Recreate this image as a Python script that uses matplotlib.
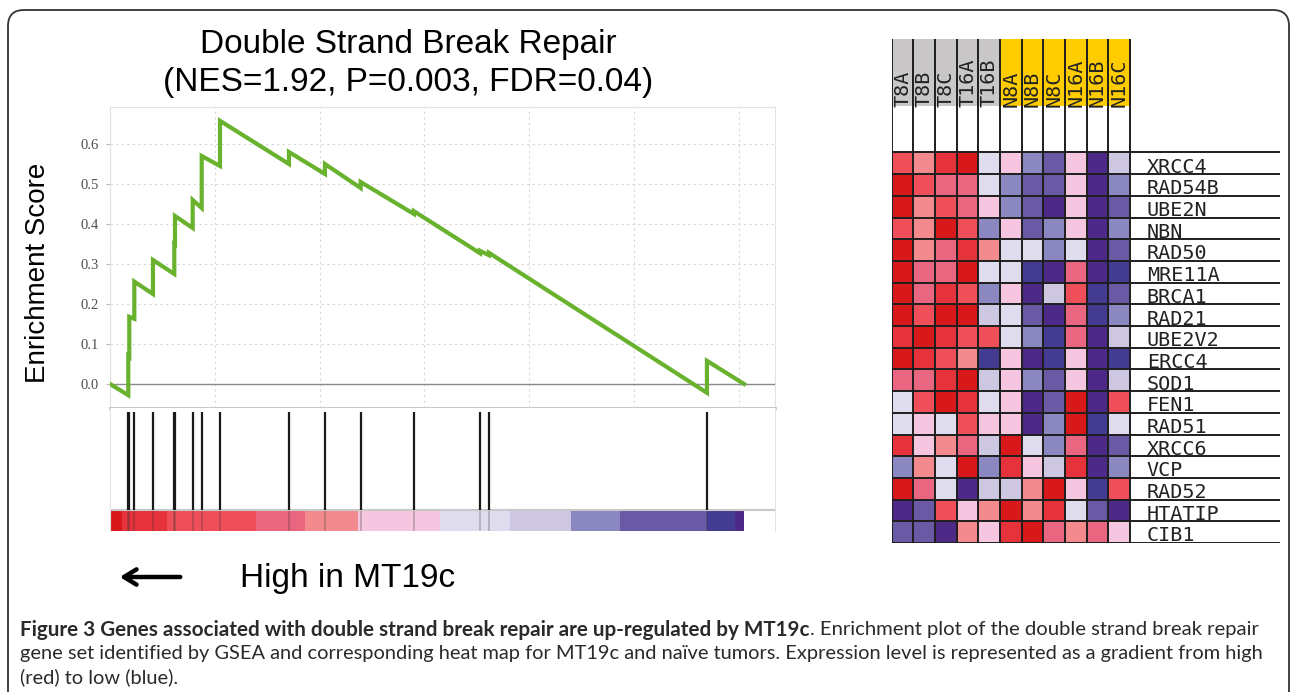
import numpy as np
import matplotlib.pyplot as plt
from matplotlib.colors import ListedColormap
from matplotlib.patches import FancyBboxPatch

plt.rcParams['font.family'] = ['Liberation Sans', 'DejaVu Sans']

W, H = 1290, 692

# running enrichment score (rank in ranked list, ES)
n_genes = 12100
es_rank = [0, 349, 349, 368, 368, 464, 464, 820, 820, 1227, 1227, 1240, 1240,
           1578, 1578, 1750, 1750, 2099, 2099, 3415, 3415, 4102, 4102, 4783, 4783,
           5800, 5800, 7060, 7060, 7231, 7231, 11391, 11391, 12100]
es_value = [0.0, -0.028, 0.07, 0.068, 0.168, 0.163, 0.256, 0.225, 0.31, 0.275, 0.35,
            0.349, 0.42, 0.39, 0.46, 0.44, 0.57, 0.545, 0.658, 0.55, 0.58, 0.525, 0.55,
            0.49, 0.505, 0.425, 0.432, 0.327, 0.333, 0.322, 0.328, -0.022, 0.058, 0.0]
hit_ranks = [349, 368, 464, 820, 1227, 1240, 1578, 1750, 2099, 3415, 4102, 4783,
             5800, 7060, 7231, 11391]

# ranked list metric colour bar (segment edges in rank units)
bar_edges = [0, 223, 1082, 2786, 3721, 4732, 6296, 7632, 8796, 9731, 11385, 11925, 12100]

# expression palette high (red) -> low (blue)
palette = ['#d7191c', '#e6323a', '#ee4f58', '#ea6680', '#f28a8e', '#f6c5df',
           '#dfdcee', '#cdc7e2', '#8b88c1', '#6a5aa5', '#433c92', '#4e2a88']

samples = ['T8A', 'T8B', 'T8C', 'T16A', 'T16B', 'N8A', 'N8B', 'N8C', 'N16A', 'N16B', 'N16C']
groups = ['T'] * 5 + ['N'] * 6
genes = ['XRCC4', 'RAD54B', 'UBE2N', 'NBN', 'RAD50', 'MRE11A', 'BRCA1', 'RAD21',
         'UBE2V2', 'ERCC4', 'SOD1', 'FEN1', 'RAD51', 'XRCC6', 'VCP', 'RAD52',
         'HTATIP', 'CIB1']
# colour level of each cell (0 = highest, 11 = lowest)
levels = [
    [2, 4, 1, 0, 6, 5, 8, 9, 5, 11, 7],
    [0, 2, 3, 3, 6, 8, 9, 9, 5, 11, 8],
    [0, 4, 2, 3, 5, 8, 9, 11, 5, 11, 9],
    [2, 4, 0, 2, 8, 5, 9, 8, 5, 11, 8],
    [0, 4, 3, 1, 4, 6, 6, 8, 6, 11, 9],
    [0, 3, 3, 0, 6, 6, 10, 11, 3, 11, 10],
    [0, 3, 1, 2, 8, 5, 11, 7, 2, 10, 9],
    [0, 2, 0, 0, 7, 6, 9, 11, 3, 10, 8],
    [1, 0, 1, 2, 2, 6, 8, 10, 3, 11, 7],
    [0, 1, 2, 4, 10, 5, 11, 10, 5, 11, 10],
    [3, 3, 1, 0, 7, 5, 8, 9, 5, 11, 7],
    [6, 2, 0, 1, 6, 5, 11, 9, 0, 11, 2],
    [6, 5, 6, 2, 5, 5, 11, 8, 0, 10, 6],
    [1, 5, 4, 3, 7, 0, 6, 8, 3, 11, 9],
    [8, 4, 6, 0, 8, 1, 5, 7, 1, 11, 8],
    [0, 3, 6, 11, 7, 7, 4, 0, 5, 10, 2],
    [11, 9, 2, 5, 4, 0, 4, 1, 6, 9, 11],
    [9, 9, 11, 4, 5, 1, 0, 3, 4, 3, 5],
]

fig = plt.figure(figsize=(W / 100, H / 100), dpi=100)
fig.patch.set_facecolor('white')

def px_axes(x0, y0, x1, y1):
    return fig.add_axes([x0 / W, 1 - y1 / H, (x1 - x0) / W, (y1 - y0) / H])

# background axes in pixel units for border and loose text
bg = fig.add_axes([0, 0, 1, 1])
bg.set_xlim(0, W)
bg.set_ylim(H, 0)
bg.axis('off')
bg.add_patch(FancyBboxPatch((8, 10), 1281, 700, boxstyle='round,pad=0,rounding_size=16',
                            fill=False, ec='#333333', lw=1.3))

# ---- enrichment score plot ----
xmax = 12690
ax = px_axes(110, 107, 775, 408)
ax.plot(es_rank, es_value, color='#68b22e', lw=3.0, solid_joinstyle='miter', zorder=3)
ax.axhline(0, color='#8a8a8a', lw=1.0, zorder=2)
ax.set_xlim(0, xmax)
ax.set_ylim(-0.06, 0.6925)
ax.set_yticks(np.arange(0, 0.61, 0.1))
ax.set_yticklabels(['%.1f' % v for v in np.arange(0, 0.61, 0.1)],
                   family='Liberation Serif', fontsize=10.5, color='#505050')
ax.set_xticks(np.arange(0, 12001, 2000))
ax.tick_params(axis='x', length=0, labelbottom=False)
ax.tick_params(axis='y', length=3, width=0.8, color='#bbbbbb', pad=5)
ax.grid(True, color='#d6d6d6', lw=0.8, ls=(0, (2, 3)))
for s in ['top', 'right', 'left']:
    ax.spines[s].set_color('#e2e2e2')
    ax.spines[s].set_linewidth(0.8)
ax.spines['bottom'].set_color('#c8c8c8')
ax.spines['bottom'].set_linewidth(2.2)
ax.set_ylabel('Enrichment Score', fontsize=20)
ax.yaxis.set_label_coords(-0.088, 0.45)

# ---- hits and ranked list colour bar ----
lo = px_axes(110, 408, 775, 531)
lo.set_xlim(0, xmax)
lo.set_ylim(0, 1)
bar_top = 0.171
lo.bar(bar_edges[:-1], bar_top, width=np.diff(bar_edges), align='edge',
       color=palette, lw=0, zorder=1)
lo.vlines(hit_ranks, bar_top, 0.967, color='#1a1a1a', lw=1.6, zorder=3)
lo.vlines(hit_ranks, 0, bar_top, color='#333333', lw=1.2, alpha=0.3, zorder=2)
lo.axhline(bar_top, color='#c8c8c8', lw=1.5, zorder=2)
lo.set_xticks([])
lo.set_yticks([])
for s in ['left', 'right']:
    lo.spines[s].set_color('#e2e2e2')
    lo.spines[s].set_linewidth(0.8)
lo.spines['top'].set_visible(False)
lo.spines['bottom'].set_visible(False)

# titles and direction label
bg.text(408, 45, 'Double Strand Break Repair', fontsize=24, ha='center', va='center')
bg.text(408, 82, '(NES=1.92, P=0.003, FDR=0.04)', fontsize=24, ha='center', va='center')
bg.annotate('', xy=(117, 577), xytext=(183, 577),
            arrowprops=dict(arrowstyle='->,head_length=0.9,head_width=0.55', lw=3.2, color='black'))
bg.text(240, 578, 'High in MT19c', fontsize=24, ha='left', va='center')

# ---- heat map ----
cw = 21.67
hx0, htop, hrow0, hx1, hy1 = 891.7, 39, 152.3, 1280, 543
hm = px_axes(hx0, htop, hx1, hy1)
ncol, nrow = len(samples), len(genes)
x_end = (hx1 - hx0) / cw
y_top = -(hrow0 - htop) / cw
hdr_h = (106 - htop) / cw
hm.set_xlim(0, x_end)
hm.set_ylim(nrow, y_top)
hm.axis('off')
hm.pcolormesh(np.arange(ncol + 1), np.arange(nrow + 1), np.array(levels),
              cmap=ListedColormap(palette), vmin=-0.5, vmax=11.5)
hdr_colors = ['#c9c7c7' if g == 'T' else '#ffcc00' for g in groups]
hm.bar(np.arange(ncol) + 0.5, hdr_h, bottom=y_top, width=1, color=hdr_colors, lw=0)
hm.vlines(np.arange(ncol + 1), y_top, nrow, color='#1e1e1e', lw=1.4)
hm.hlines(np.arange(nrow + 1), 0, x_end, color='#1e1e1e', lw=1.4)
for i, s in enumerate(samples):
    hm.text(i + 0.5, y_top + hdr_h + 0.02, s, rotation=90, rotation_mode='anchor',
            ha='left', va='center', family='DejaVu Sans Mono', fontsize=14.5, color='#222222')
for j, g in enumerate(genes):
    hm.text(11.77, j + 0.93, g, ha='left', va='baseline',
            family='DejaVu Sans Mono', fontsize=14.5, color='#222222')

# ---- caption ----
cap_font = dict(family=['Lato', 'DejaVu Sans'], color='#2a2a2a', va='center')
t1 = bg.text(20, 630, 'Figure 3 Genes associated with double strand break repair are up-regulated by MT19c',
             fontweight='bold', fontsize=14.9, **cap_font)
bg.annotate('. Enrichment plot of the double strand break repair', xy=(1, 0.5), xycoords=t1,
            ha='left', fontsize=14.6, **cap_font)
bg.text(20, 654, 'gene set identified by GSEA and corresponding heat map for MT19c and na\u00efve tumors. '
        'Expression level is represented as a gradient from high', fontsize=14.4, **cap_font)
bg.text(20, 677, '(red) to low (blue).', fontsize=14.4, **cap_font)

fig.savefig('out.png', dpi=100)
